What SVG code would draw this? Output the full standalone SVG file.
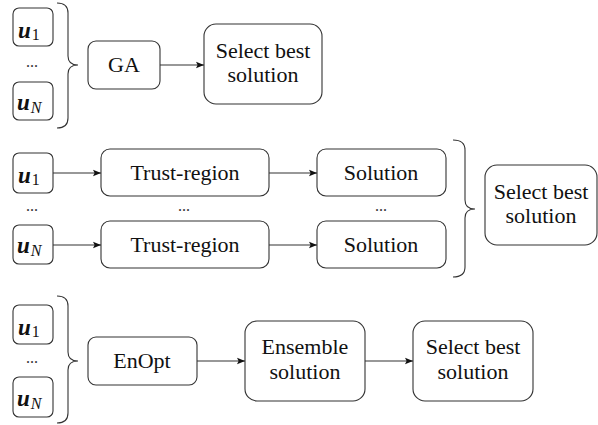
<svg xmlns="http://www.w3.org/2000/svg" width="598" height="425" viewBox="0 0 598 425" font-family="Liberation Serif, serif">
<style>
.b{fill:#fff;stroke:#333;stroke-width:1.1}
.t{font-family:'Liberation Serif','DejaVu Serif',serif;font-size:22px;fill:#111;text-anchor:middle}
.u{font-family:'Liberation Serif','DejaVu Serif',serif;font-size:23px;font-weight:bold;font-style:italic;fill:#111}
.s{font-family:'Liberation Serif','DejaVu Serif',serif;font-size:16px;fill:#111}
.si{font-family:'Liberation Serif','DejaVu Serif',serif;font-size:16px;font-style:italic;fill:#111}
.d{font-family:'Liberation Serif','DejaVu Serif',serif;font-size:16px;fill:#333;text-anchor:middle}
.c{fill:none;stroke:#333;stroke-width:1.1}
</style>
<defs>
<marker id="ah" viewBox="0 0 10 10" refX="10" refY="5" markerWidth="8" markerHeight="8" markerUnits="userSpaceOnUse" orient="auto">
<path d="M0,1 L10,5 L0,9 L2,5 Z" fill="#111"/>
</marker>
</defs>

<!-- Section 1 -->
<g id="s1-u1"><rect class="b" x="13" y="8" width="40" height="38" rx="6"/><text x="18" y="38"><tspan class="u">u</tspan><tspan class="s" dx="1" dy="2">1</tspan></text></g>
<g id="s1-dots"><text class="d" x="32" y="67">...</text></g>
<g id="s1-uN"><rect class="b" x="13" y="82" width="40" height="38" rx="6"/><text x="17" y="110"><tspan class="u">u</tspan><tspan class="si" dx="1" dy="3">N</tspan></text></g>
<g id="s1-brace"><path class="c" d="M57,3 Q68,3 68,13 L68,56 Q68,65 78,65 Q68,65 68,74 L68,118 Q68,128 57,128"/></g>
<g id="s1-ga"><rect class="b" x="88" y="41" width="72" height="48" rx="8"/><text class="t" x="124" y="72">GA</text></g>
<g id="s1-select"><rect class="b" x="204" y="24" width="118" height="80" rx="12"/><text class="t" x="263" y="58">Select best</text><text class="t" x="263" y="82">solution</text></g>

<!-- Section 2 -->
<g id="s2-u1"><rect class="b" x="13" y="153" width="40" height="40" rx="6"/><text x="18" y="183"><tspan class="u">u</tspan><tspan class="s" dx="1" dy="2">1</tspan></text></g>
<g id="s2-dots"><text class="d" x="32" y="211">...</text></g>
<g id="s2-uN"><rect class="b" x="13" y="225" width="40" height="39" rx="6"/><text x="17" y="253"><tspan class="u">u</tspan><tspan class="si" dx="1" dy="3">N</tspan></text></g>
<g id="s2-tr1"><rect class="b" x="101" y="149" width="168" height="47" rx="9"/><text class="t" x="185" y="180">Trust-region</text></g>
<g id="s2-trdots"><text class="d" x="184" y="211">...</text></g>
<g id="s2-tr2"><rect class="b" x="101" y="221" width="168" height="47" rx="9"/><text class="t" x="185" y="252">Trust-region</text></g>
<g id="s2-sol1"><rect class="b" x="317" y="149" width="129" height="47" rx="9"/><text class="t" x="381" y="180">Solution</text></g>
<g id="s2-soldots"><text class="d" x="381" y="211">...</text></g>
<g id="s2-sol2"><rect class="b" x="317" y="221" width="129" height="47" rx="9"/><text class="t" x="381" y="252">Solution</text></g>
<g id="s2-brace"><path class="c" d="M453,140 Q465,140 465,150 L465,200 Q465,209 475,209 Q465,209 465,218 L465,267 Q465,277 453,277"/></g>
<g id="s2-select"><rect class="b" x="485" y="165" width="112" height="80" rx="12"/><text class="t" x="541" y="199">Select best</text><text class="t" x="541" y="223">solution</text></g>

<!-- Section 3 -->
<g id="s3-u1"><rect class="b" x="13" y="305" width="40" height="39" rx="6"/><text x="18" y="335"><tspan class="u">u</tspan><tspan class="s" dx="1" dy="2">1</tspan></text></g>
<g id="s3-dots"><text class="d" x="32" y="363">...</text></g>
<g id="s3-uN"><rect class="b" x="13" y="377" width="40" height="40" rx="6"/><text x="17" y="406"><tspan class="u">u</tspan><tspan class="si" dx="1" dy="3">N</tspan></text></g>
<g id="s3-brace"><path class="c" d="M57,296 Q68,296 68,306 L68,352 Q68,361 78,361 Q68,361 68,370 L68,413 Q68,423 57,423"/></g>
<g id="s3-enopt"><rect class="b" x="88" y="337" width="109" height="48" rx="8"/><text class="t" x="142" y="368">EnOpt</text></g>
<g id="s3-ensemble"><rect class="b" x="245" y="321" width="120" height="80" rx="12"/><text class="t" x="305" y="354">Ensemble</text><text class="t" x="305" y="379">solution</text></g>
<g id="s3-select"><rect class="b" x="413" y="321" width="120" height="80" rx="12"/><text class="t" x="473" y="354">Select best</text><text class="t" x="473" y="379">solution</text></g>

<g id="connectors" class="c" marker-end="url(#ah)">
<line x1="160" y1="65" x2="204" y2="65"/>
<line x1="53" y1="173" x2="101" y2="173"/>
<line x1="53" y1="245" x2="101" y2="245"/>
<line x1="269" y1="173" x2="317" y2="173"/>
<line x1="269" y1="245" x2="317" y2="245"/>
<line x1="197" y1="361" x2="245" y2="361"/>
<line x1="365" y1="361" x2="413" y2="361"/>
</g>
</svg>
